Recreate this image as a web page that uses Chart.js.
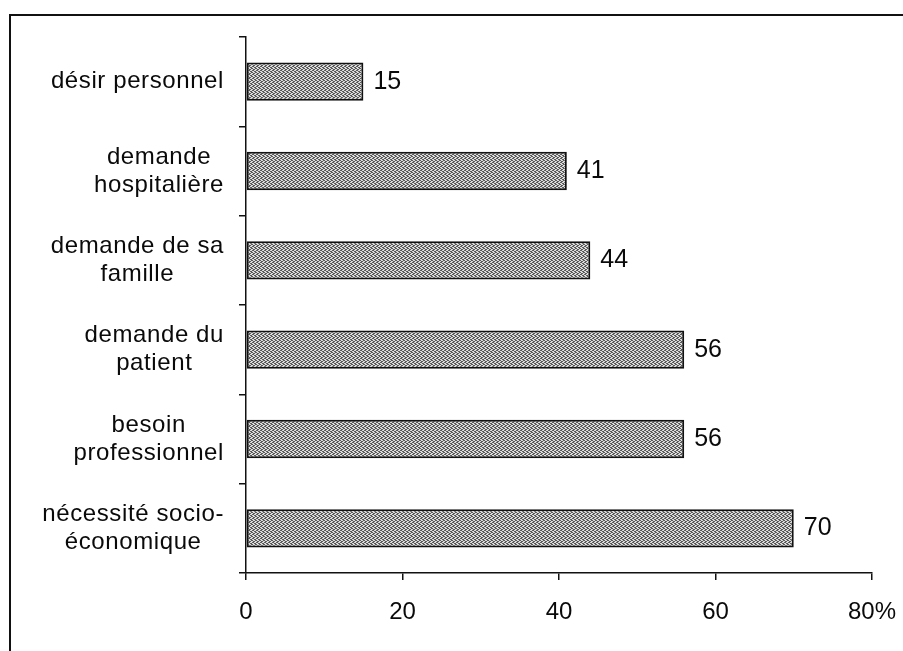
<!DOCTYPE html>
<html lang="fr">
<head>
<meta charset="utf-8">
<title>Motifs</title>
<script src="https://cdn.jsdelivr.net/npm/chart.js@4/dist/chart.umd.min.js"></script>
<style>
    html, body { margin: 0; padding: 0; background: #fff; overflow: hidden; width: 903px; height: 651px; }
    #conteneur { position: relative; width: 903px; height: 651px; overflow: hidden; }
    #myChart { position: absolute; left: 0; top: 0; width: 903px; height: 651px; }
    #cadre {
        position: absolute; left: 9px; top: 14px; width: 1000px; height: 1000px;
        border-left: 2px solid #111; border-top: 2px solid #111; pointer-events: none;
    }
</style>
</head>
<body>
<div id="conteneur">
    <canvas id="myChart" width="903" height="651"></canvas>
    <div id="cadre"></div>
</div>
<script>
// Libellés des motifs (une ligne par élément du tableau)
const motifs = [
    ['désir personnel'],
    ['demande', 'hospitalière'],
    ['demande de sa', 'famille'],
    ['demande du', 'patient'],
    ['besoin', 'professionnel'],
    ['nécessité socio-', 'économique']
];
const pourcentages = [15, 41, 44, 56, 56, 70];
const graduations = [0, 20, 40, 60, 80];

const police = '"Liberation Sans", Arial, sans-serif';

// Trame pointillée grise pour le remplissage des barres
function creerTrame() {
    const c = document.createElement('canvas');
    c.width = 4;
    c.height = 4;
    const g = c.getContext('2d');
    g.fillStyle = '#dcdcdc';
    g.fillRect(0, 0, 4, 4);
    g.fillStyle = '#5a5a5a';
    const points = [[0, 0], [2, 1], [1, 2], [3, 3], [2, 3], [0, 2], [3, 0], [1, 1]];
    for (const [x, y] of points) g.fillRect(x, y, 1, 1);
    return g.createPattern(c, 'repeat');
}

// Libellés des catégories : lignes centrées, bloc aligné contre l'axe
const libellesMotifs = {
    id: 'libellesMotifs',
    afterDraw(chart) {
        const ctx = chart.ctx;
        const echelle = chart.scales.y;
        const droite = 224;
        const interligne = 28;
        ctx.save();
        ctx.font = '24px ' + police;
        ctx.letterSpacing = '0.6px';
        ctx.fillStyle = '#0a0a0a';
        ctx.textAlign = 'center';
        ctx.textBaseline = 'middle';
        motifs.forEach((lignes, i) => {
            const largeur = Math.max(...lignes.map(l => ctx.measureText(l).width));
            const cx = droite - largeur / 2;
            const cy = echelle.getPixelForValue(i);
            lignes.forEach((l, k) => {
                ctx.fillText(l, cx, cy + (k - (lignes.length - 1) / 2) * interligne);
            });
        });
        ctx.restore();
    }
};

// Valeurs écrites au bout des barres
const valeursBarres = {
    id: 'valeursBarres',
    afterDatasetsDraw(chart) {
        const ctx = chart.ctx;
        ctx.save();
        ctx.font = '25px ' + police;
        ctx.fillStyle = '#0a0a0a';
        ctx.textAlign = 'left';
        ctx.textBaseline = 'middle';
        chart.getDatasetMeta(0).data.forEach((barre, i) => {
            ctx.fillText(String(pourcentages[i]), barre.x + 10, barre.y);
        });
        ctx.restore();
    }
};

const ctx = document.getElementById('myChart').getContext('2d');
const myChart = new Chart(ctx, {
    type: 'bar',
    data: {
        labels: motifs,
        datasets: [{
            data: pourcentages,
            backgroundColor: creerTrame(),
            borderColor: '#111',
            borderWidth: 2,
            borderSkipped: false,
            barPercentage: 0.43,
            categoryPercentage: 1
        }]
    },
    options: {
        indexAxis: 'y',
        responsive: false,
        animation: false,
        layout: { padding: { left: 0, right: 31, top: 37, bottom: 0 } },
        plugins: {
            legend: { display: false },
            tooltip: { enabled: false }
        },
        scales: {
            x: {
                min: 0,
                max: 80,
                afterBuildTicks: (axe) => { axe.ticks = graduations.map(v => ({ value: v })); },
                afterFit: (axe) => {
                    axe.height = 78;
                    axe.paddingLeft = 0;
                    axe.paddingRight = 0;
                },
                border: { color: '#111', width: 1.5 },
                grid: { drawOnChartArea: false, drawTicks: true, tickLength: 7, color: '#111', lineWidth: 1.5 },
                ticks: {
                    padding: 18,
                    color: '#0a0a0a',
                    font: { family: police, size: 24 },
                    callback: (v) => v === 80 ? '80%' : String(v)
                }
            },
            y: {
                afterFit: (axe) => {
                    axe.width = 246;
                    axe.paddingTop = 0;
                    axe.paddingBottom = 0;
                },
                border: { color: '#111', width: 1.5 },
                grid: { offset: true, drawOnChartArea: false, drawTicks: true, tickLength: 7, color: '#111', lineWidth: 1.5 },
                ticks: { display: false }
            }
        }
    },
    plugins: [libellesMotifs, valeursBarres]
});
</script>
</body>
</html>
